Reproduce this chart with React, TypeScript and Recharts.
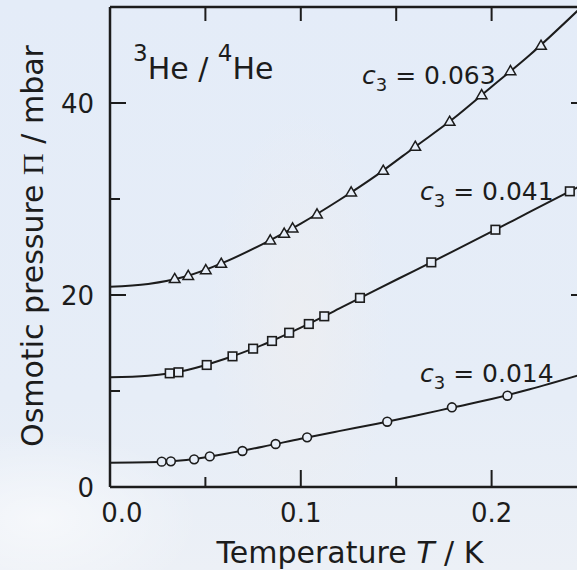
import { ComposedChart, Line, Scatter, XAxis, YAxis } from 'recharts';

// temperature (K) / osmotic pressure (mbar)
const c014T = [0.0271, 0.0319, 0.0441, 0.0523, 0.0694, 0.0868, 0.1033, 0.1453, 0.1792, 0.2083];
const c014P = [2.64, 2.67, 2.88, 3.19, 3.75, 4.48, 5.17, 6.8, 8.3, 9.51];

const c041T = [0.0313, 0.0359, 0.0507, 0.0642, 0.075, 0.0849, 0.0939, 0.1042, 0.1123, 0.131, 0.1684, 0.202, 0.241];
const c041P = [11.84, 11.95, 12.71, 13.61, 14.41, 15.21, 16.07, 16.98, 17.78, 19.7, 23.4, 26.8, 30.8];

const c063T = [0.0339, 0.041, 0.0502, 0.0583, 0.084, 0.0913, 0.0957, 0.1085, 0.1264, 0.1432, 0.16, 0.178, 0.1948, 0.2099, 0.2259];
const c063P = [21.67, 22.0, 22.6, 23.26, 25.7, 26.4, 26.95, 28.4, 30.7, 32.95, 35.45, 38.05, 40.83, 43.33, 45.97];

// the drawn fit curves, read at these temperatures
const curveT = [0, 0.02, 0.04, 0.06, 0.08, 0.1, 0.12, 0.14, 0.16, 0.18, 0.2, 0.22, 0.245];
const curve014 = [2.53, 2.57, 2.81, 3.44, 4.19, 5.03, 5.82, 6.59, 7.42, 8.3, 9.17, 10.18, 11.6];
const curve041 = [11.42, 11.59, 12.16, 13.33, 14.81, 16.61, 18.57, 20.59, 22.57, 24.57, 26.6, 28.65, 31.2];
const curve063 = [20.87, 21.15, 21.95, 23.42, 25.31, 27.44, 29.87, 32.52, 35.45, 38.38, 41.69, 45.0, 49.6];

const xTicks = [0, 0.05, 0.1, 0.15, 0.2, 0.25];
const yTicks = [0, 10, 20, 30, 40, 50];

const ink = '#1c1c1c';
const markFill = '#e7eef8';
const font = '"DejaVu Sans", sans-serif';

const rows = (t: number[], p: number[]) => t.map((x, i) => ({ x, y: p[i] }));

const isMajorX = (v: number) => Math.abs(v * 10 - Math.round(v * 10)) < 1e-6;
const isMajorY = (v: number) => v % 20 === 0;

const BottomTick = ({ x, y, payload }: any) => {
  const major = isMajorX(payload.value);
  return (
    <g>
      <line x1={x} x2={x} y1={y} y2={y - (major ? 17 : 10)} stroke={ink} strokeWidth={2} />
      {major && (
        <text x={payload.value === 0 ? x + 12 : x} y={y + 35} textAnchor="middle" fontFamily={font} fontSize={26} fill={ink}>
          {payload.value.toFixed(1)}
        </text>
      )}
    </g>
  );
};

const NoLabel = () => <g />;

const LeftTick = ({ x, y, payload }: any) => {
  const major = isMajorY(payload.value);
  return (
    <g>
      <line x1={x} x2={x + (major ? 16 : 10)} y1={y} y2={y} stroke={ink} strokeWidth={2} />
      {major && (
        <text x={x - 16} y={y + 9.5} textAnchor="end" fontFamily={font} fontSize={26} fill={ink}>
          {payload.value}
        </text>
      )}
    </g>
  );
};

const RightTick = ({ x, y, payload }: any) => (
  <line x1={x} x2={x - (isMajorY(payload.value) ? 16 : 10)} y1={y} y2={y} stroke={ink} strokeWidth={2} />
);

const Circle = ({ cx, cy }: any) => <circle cx={cx} cy={cy} r={4.4} fill={markFill} stroke={ink} strokeWidth={1.6} />;
const Square = ({ cx, cy }: any) => (
  <rect x={cx - 4.3} y={cy - 4.3} width={8.6} height={8.6} fill={markFill} stroke={ink} strokeWidth={1.6} />
);
const Triangle = ({ cx, cy }: any) => (
  <polygon
    points={`${cx},${cy - 5.5} ${cx + 5.3},${cy + 3.6} ${cx - 5.3},${cy + 3.6}`}
    fill={markFill}
    stroke={ink}
    strokeWidth={1.5}
  />
);
const Nothing = () => <g />;

const CLabel = ({ x, y, value }: { x: number; y: number; value: string }) => (
  <text x={x} y={y} fontFamily={font} fontSize={25} fill={ink}>
    <tspan fontStyle="italic">c</tspan>
    <tspan fontSize={18} dy={7}>3</tspan>
    <tspan dy={-7}>{` = ${value}`}</tspan>
  </text>
);

export default function App() {
  return (
    <div
      style={{
        position: 'fixed',
        left: 0,
        top: 0,
        width: 577,
        height: 570,
        overflow: 'hidden',
        background:
          'radial-gradient(ellipse 160px 90px at 40px 520px, rgba(255,255,255,0.55), rgba(255,255,255,0) 100%),' +
          'radial-gradient(ellipse 90px 220px at 300px 330px, rgba(238,238,240,0.75), rgba(238,238,240,0) 100%),' +
          'linear-gradient(180deg, #e4ecf8 0%, #e6edf7 70%, #ecf0f6 100%)',
      }}
    >
      <div style={{ position: 'absolute', left: 0, top: -30 }}>
        <ComposedChart width={610} height={600} margin={{ top: 7, right: 22, bottom: 0, left: 0 }}>
          <XAxis
            dataKey="x"
            type="number"
            domain={[0, 0.25]}
            ticks={xTicks}
            height={83}
            tickSize={0}
            tickMargin={0}
            tickLine={false}
            tick={BottomTick}
            axisLine={{ stroke: ink, strokeWidth: 2.5 }}
            allowDataOverflow
          />
          <XAxis
            xAxisId="top"
            orientation="top"
            dataKey="x"
            type="number"
            domain={[0, 0.25]}
            ticks={xTicks}
            height={30}
            tickSize={-14}
            tickMargin={0}
            tickLine={{ stroke: ink, strokeWidth: 2 }}
            tick={NoLabel}
            stroke={ink}
            strokeWidth={2.5}
            allowDataOverflow
          />
          <YAxis
            dataKey="y"
            type="number"
            domain={[0, 50]}
            ticks={yTicks}
            width={110}
            tickSize={0}
            tickMargin={0}
            tickLine={false}
            tick={LeftTick}
            axisLine={{ stroke: ink, strokeWidth: 2.5 }}
            allowDataOverflow
          />
          <YAxis
            yAxisId="right"
            orientation="right"
            dataKey="y"
            type="number"
            domain={[0, 50]}
            ticks={yTicks}
            width={1}
            tickSize={0}
            tickMargin={0}
            tickLine={false}
            tick={RightTick}
            axisLine={{ stroke: ink, strokeWidth: 2.5 }}
            allowDataOverflow
          />
          <Line data={rows(curveT, curve014)} dataKey="y" type="monotone" stroke={ink} strokeWidth={2} dot={false} activeDot={false} isAnimationActive={false} />
          <Line data={rows(curveT, curve041)} dataKey="y" type="monotone" stroke={ink} strokeWidth={2} dot={false} activeDot={false} isAnimationActive={false} />
          <Line data={rows(curveT, curve063)} dataKey="y" type="monotone" stroke={ink} strokeWidth={2} dot={false} activeDot={false} isAnimationActive={false} />
          <Scatter data={rows(c014T, c014P)} dataKey="y" shape={Circle} isAnimationActive={false} />
          <Scatter data={rows(c041T, c041P)} dataKey="y" shape={Square} isAnimationActive={false} />
          <Scatter data={rows(c063T, c063P)} dataKey="y" shape={Triangle} isAnimationActive={false} />
          {/* keeps the top and right frame axes alive */}
          <Scatter xAxisId="top" yAxisId="right" data={rows(c063T, c063P)} dataKey="y" shape={Nothing} isAnimationActive={false} />
        </ComposedChart>
      </div>
      <svg width={577} height={570} style={{ position: 'absolute', left: 0, top: 0, pointerEvents: 'none' }}>
        <text x={133} y={79} fontFamily={font} fontSize={30} fill={ink}>
          <tspan fontSize={23} dy={-18}>3</tspan>
          <tspan dy={18}>He / </tspan>
          <tspan fontSize={23} dy={-18}>4</tspan>
          <tspan dy={18}>He</tspan>
        </text>
        <CLabel x={362} y={84} value="0.063" />
        <CLabel x={420} y={200} value="0.041" />
        <CLabel x={420} y={382} value="0.014" />
        <text x={350} y={563} textAnchor="middle" fontFamily={font} fontSize={30} fill={ink}>
          Temperature <tspan fontStyle="italic">T</tspan> / K
        </text>
        <text transform="translate(43 246) rotate(-90)" textAnchor="middle" fontFamily={font} fontSize={30} fill={ink}>
          Osmotic pressure <tspan fontFamily='"Liberation Serif", serif'>Π</tspan> / mbar
        </text>
      </svg>
    </div>
  );
}
